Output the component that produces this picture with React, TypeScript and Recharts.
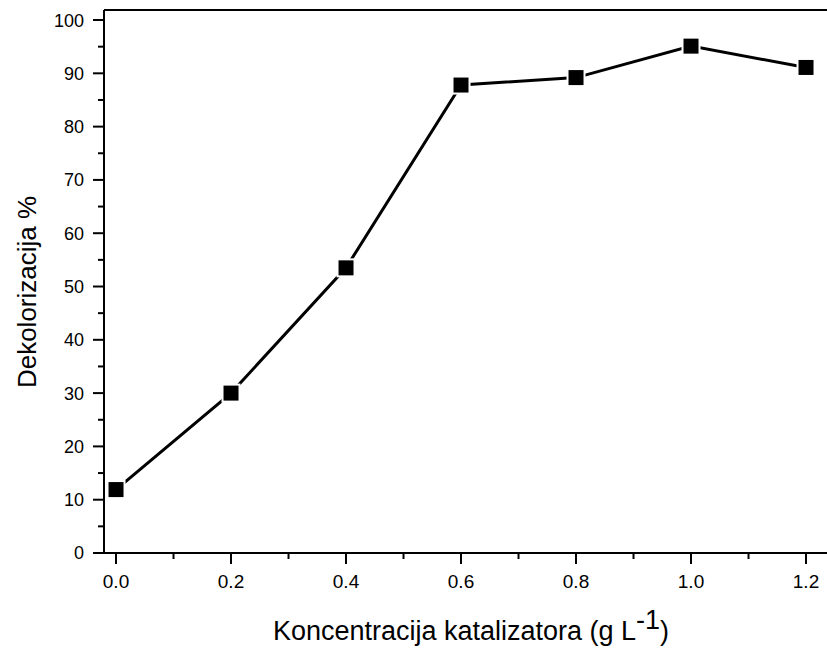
import React from "react";
import { LineChart, Line, XAxis, YAxis, ReferenceLine } from "recharts";

const concentrations = [0.0, 0.2, 0.4, 0.6, 0.8, 1.0, 1.2];
const decolorization = [11.9, 30.0, 53.5, 87.8, 89.2, 95.1, 91.1];

const xTicks = [0, 0.1, 0.2, 0.3, 0.4, 0.5, 0.6, 0.7, 0.8, 0.9, 1.0, 1.1, 1.2];
const yTicks = [0, 5, 10, 15, 20, 25, 30, 35, 40, 45, 50, 55, 60, 65, 70, 75, 80, 85, 90, 95, 100];

const data = concentrations.map((c, i) => ({ c, v: decolorization[i] }));

const X_MIN = -0.0209;
const X_MAX = 1.2365;
const Y_MAX = 101.88;
const FONT = "'Liberation Sans', Arial, sans-serif";

const YTick = (props: any) => {
  const { x, y, payload } = props;
  const major = Math.round(payload.value) % 10 === 0;
  return (
    <g>
      <line x1={x - (major ? 11 : 6)} x2={x} y1={y} y2={y} stroke="#000" strokeWidth={2} />
      {major && (
        <text x={x - 20} y={y} dy="0.36em" textAnchor="end" fontSize={18} fontFamily={FONT} fill="#000">
          {payload.value}
        </text>
      )}
    </g>
  );
};

const XTick = (props: any) => {
  const { x, y, payload } = props;
  const major = Math.round(payload.value * 10) % 2 === 0;
  return (
    <g>
      <line x1={x} x2={x} y1={y} y2={y + (major ? 11 : 6)} stroke="#000" strokeWidth={2} />
      {major && (
        <text x={x} y={y + 35} textAnchor="middle" fontSize={19} fontFamily={FONT} fill="#000">
          {payload.value.toFixed(1)}
        </text>
      )}
    </g>
  );
};

const SquareDot = (props: any) => {
  const { cx, cy, index } = props;
  return (
    <g key={`dot-${index}`}>
      <rect x={cx - 9.5} y={cy - 9.5} width={19} height={19} fill="#fff" />
      <rect x={cx - 7.5} y={cy - 7.5} width={15} height={15} fill="#000" />
    </g>
  );
};

export default function App() {
  return (
    <div style={{ position: "absolute", left: 0, top: 0, width: 827, height: 652, background: "#fff" }}>
      <LineChart width={827} height={652} data={data} margin={{ top: 10, right: 0, bottom: 0, left: 0 }}>
        <XAxis
          dataKey="c"
          type="number"
          domain={[X_MIN, X_MAX]}
          ticks={xTicks}
          interval={0}
          height={99}
          tickSize={0}
          tickMargin={0}
          tickLine={false}
          tick={<XTick />}
          axisLine={{ stroke: "#000", strokeWidth: 2 }}
          label={{
            content: () => (
              <text x={471} y={640} textAnchor="middle" fontSize={27} fontFamily={FONT} fill="#000">
                <tspan>Koncentracija katalizatora (g L</tspan>
                <tspan dy={-11}>-1</tspan>
                <tspan dy={11}>)</tspan>
              </text>
            ),
          }}
        />
        <YAxis
          type="number"
          domain={[0, Y_MAX]}
          ticks={yTicks}
          interval={0}
          width={104}
          tickSize={0}
          tickMargin={0}
          tickLine={false}
          tick={<YTick />}
          axisLine={{ stroke: "#000", strokeWidth: 2 }}
          label={{
            content: () => (
              <text
                x={36}
                y={292}
                transform="rotate(-90 36 292)"
                textAnchor="middle"
                fontSize={26}
                fontFamily={FONT}
                fill="#000"
              >
                Dekolorizacija %
              </text>
            ),
          }}
        />
        <ReferenceLine y={Y_MAX} stroke="#000" strokeWidth={2} />
        <Line
          dataKey="v"
          type="linear"
          stroke="#000"
          strokeWidth={3}
          dot={(p: any) => <SquareDot {...p} />}
          isAnimationActive={false}
        />
      </LineChart>
    </div>
  );
}
